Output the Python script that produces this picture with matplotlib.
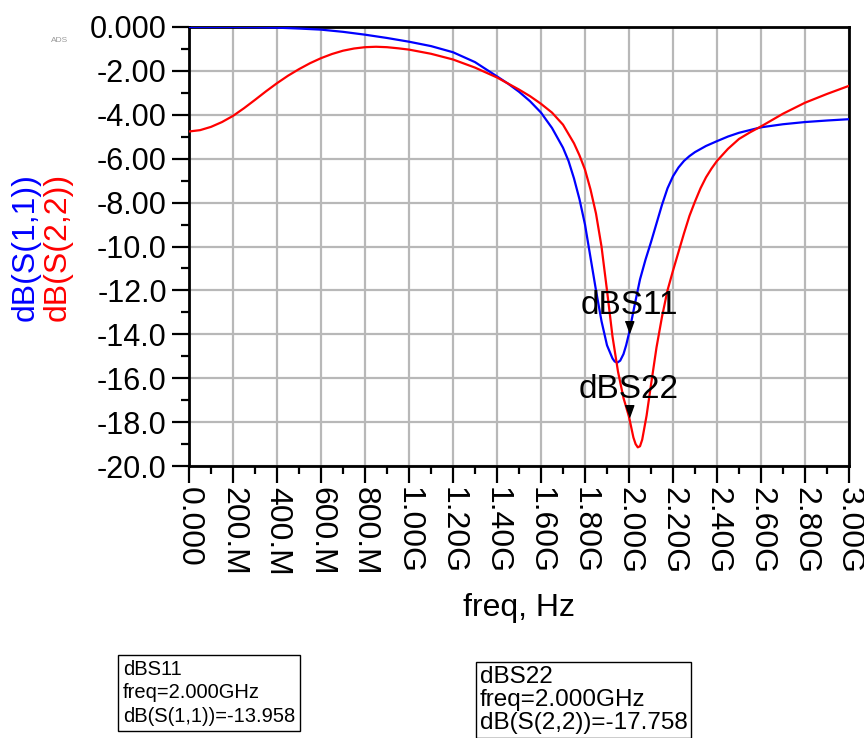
import matplotlib
matplotlib.use("Agg")
import matplotlib.pyplot as plt
from matplotlib.ticker import MultipleLocator

plt.rcParams['font.family'] = ['Liberation Sans', 'DejaVu Sans']

# S11 sweep (GHz, dB)
freq_s11 = [0.0, 0.1, 0.2, 0.3, 0.4, 0.5, 0.6, 0.7, 0.8, 0.9, 1.0, 1.1, 1.2, 1.3, 1.4,
            1.45, 1.5, 1.55, 1.6, 1.65, 1.7, 1.725, 1.75, 1.775, 1.8, 1.825, 1.85,
            1.875, 1.9, 1.925, 1.935, 1.947, 1.96, 1.975, 1.987, 2.0, 2.025, 2.05,
            2.075, 2.1, 2.125, 2.15, 2.175, 2.2, 2.225, 2.25, 2.275, 2.3, 2.35, 2.4,
            2.45, 2.5, 2.6, 2.7, 2.8, 2.9, 3.0]
db_s11 = [0.0, 0.0, 0.0, -0.01, -0.03, -0.07, -0.12, -0.22, -0.35, -0.5, -0.67, -0.87,
          -1.15, -1.6, -2.25, -2.58, -2.95, -3.38, -3.9, -4.6, -5.5, -6.1, -6.9, -7.85,
          -9.0, -10.5, -12.0, -13.4, -14.5, -15.1, -15.24, -15.29, -15.2, -14.9,
          -14.5, -13.958, -12.7, -11.5, -10.6, -9.8, -8.95, -8.1, -7.35, -6.8, -6.4,
          -6.1, -5.88, -5.7, -5.42, -5.2, -4.99, -4.82, -4.57, -4.43, -4.33, -4.26,
          -4.2]

# S22 sweep (GHz, dB)
freq_s22 = [0.0, 0.05, 0.1, 0.15, 0.2, 0.25, 0.3, 0.35, 0.4, 0.45, 0.5, 0.55, 0.6,
            0.65, 0.7, 0.75, 0.8, 0.85, 0.9, 0.95, 1.0, 1.1, 1.2, 1.3, 1.4, 1.5, 1.55,
            1.6, 1.65, 1.7, 1.75, 1.775, 1.8, 1.825, 1.85, 1.875, 1.9, 1.925, 1.95,
            1.975, 2.0, 2.02, 2.03, 2.04, 2.05, 2.06, 2.08, 2.1, 2.125, 2.15, 2.175,
            2.2, 2.25, 2.275, 2.3, 2.325, 2.35, 2.375, 2.4, 2.45, 2.5, 2.55, 2.6, 2.7,
            2.8, 2.9, 3.0]
db_s22 = [-4.76, -4.7, -4.55, -4.33, -4.05, -3.7, -3.32, -2.93, -2.56, -2.22, -1.92,
          -1.65, -1.42, -1.23, -1.08, -0.98, -0.92, -0.9, -0.92, -0.97, -1.03, -1.22,
          -1.48, -1.85, -2.3, -2.85, -3.15, -3.5, -3.9, -4.45, -5.3, -5.85, -6.5,
          -7.4, -8.5, -10.0, -12.0, -14.1, -15.7, -16.9, -17.758, -18.7, -19.0,
          -19.15, -19.1, -18.8, -17.7, -16.3, -14.6, -13.2, -12.0, -11.1, -9.4, -8.6,
          -7.95, -7.35, -6.85, -6.45, -6.1, -5.55, -5.1, -4.8, -4.53, -3.95, -3.45,
          -3.05, -2.68]

# marker readouts at 2 GHz
m_freq = 2.0
m11 = -13.958
m22 = -17.758

x_ticks = [0.0, 0.2, 0.4, 0.6, 0.8, 1.0, 1.2, 1.4, 1.6, 1.8, 2.0, 2.2, 2.4, 2.6, 2.8, 3.0]
x_labels = ['0.000', '200.M', '400.M', '600.M', '800.M', '1.00G', '1.20G', '1.40G',
            '1.60G', '1.80G', '2.00G', '2.20G', '2.40G', '2.60G', '2.80G', '3.00G']
y_ticks = [0, -2, -4, -6, -8, -10, -12, -14, -16, -18, -20]
y_labels = ['0.000', '-2.00', '-4.00', '-6.00', '-8.00', '-10.0', '-12.0', '-14.0',
            '-16.0', '-18.0', '-20.0']

fig = plt.figure(figsize=(8.64, 7.38), dpi=100)
ax = fig.add_axes([189 / 864, 1 - 466 / 738, 660 / 864, 439 / 738])

ax.grid(True, color='#b8b8b8', linewidth=1.6)
ax.set_axisbelow(True)
ax.plot(freq_s11, db_s11, color='#0000ff', linewidth=1.6, zorder=3)
ax.plot(freq_s22, db_s22, color='#ff0000', linewidth=1.6, zorder=3)

ax.set_xlim(0, 3.0)
ax.set_ylim(-20, 0)
ax.set_xticks(x_ticks)
ax.set_xticklabels(x_labels, rotation=-90, fontsize=23)
ax.set_yticks(y_ticks)
ax.set_yticklabels(y_labels, fontsize=22)
ax.xaxis.set_minor_locator(MultipleLocator(0.1))
ax.yaxis.set_minor_locator(MultipleLocator(1))
ax.tick_params(which='major', direction='out', length=12, width=1.6, pad=4)
ax.tick_params(which='minor', direction='out', length=6, width=1.6)
ax.tick_params(axis='x', which='major', pad=3)
for s in ax.spines.values():
    s.set_linewidth(2)

# marker triangles with their names
tri = [(-4, 11), (4, 11), (0, 0)]
for name, val in [('dBS11', m11), ('dBS22', m22)]:
    ax.plot([m_freq], [val], marker=tri, markersize=17, color='black',
            linestyle='none', zorder=4)
    ax.annotate(name, (m_freq, val), xytext=(0, 19), textcoords='offset pixels',
                ha='center', va='baseline', fontsize=24, zorder=5)

fig.text(26 / 864, 1 - 247 / 738, 'dB(S(1,1))', color='#0000ff', fontsize=23,
         rotation=90, ha='center', va='center')
fig.text(58 / 864, 1 - 247 / 738, 'dB(S(2,2))', color='#ff0000', fontsize=23,
         rotation=90, ha='center', va='center')
fig.text(519 / 864, 1 - 608 / 738, 'freq, Hz', fontsize=23, ha='center', va='center')
fig.text(60 / 864, 1 - 40 / 738, 'ADS', fontsize=6, color='#999999',
         ha='center', va='center')

box = dict(boxstyle='square,pad=0.25', fc='white', ec='black', lw=1)
fig.text(123 / 864, 1 - 693 / 738,
         'dBS11\nfreq=2.000GHz\ndB(S(1,1))=%.3f' % m11,
         fontsize=14.5, ha='left', va='center', linespacing=1.3, bbox=box)
fig.text(480 / 864, 1 - 700 / 738,
         'dBS22\nfreq=2.000GHz\ndB(S(2,2))=%.3f' % m22,
         fontsize=17.5, ha='left', va='center', linespacing=1.08,
         bbox=dict(boxstyle='square,pad=0.15', fc='white', ec='black', lw=1))

fig.savefig('out.png', dpi=100)
